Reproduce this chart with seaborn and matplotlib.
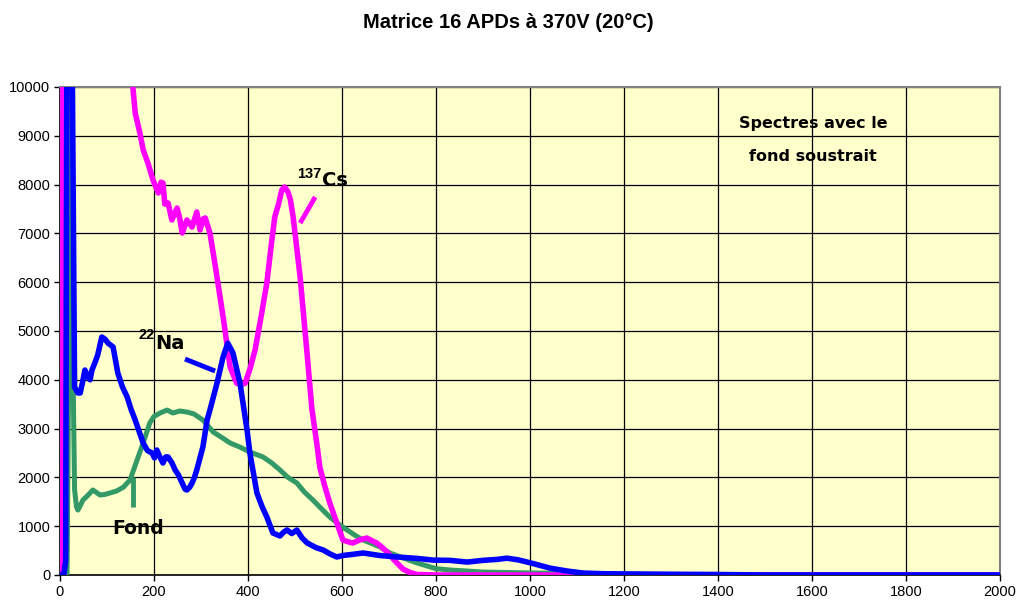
import numpy as np
import pandas as pd
import matplotlib
matplotlib.use("Agg")
import matplotlib.pyplot as plt
import seaborn as sns

# ---------------- data ----------------
title = "Matrice 16 APDs à 370V (20°C)"

cs_x = [0, 3, 6, 12, 25, 150, 155, 160, 170, 177, 187, 198, 209, 215, 219, 223, 230,
        238, 249, 255, 260, 270, 281, 291, 298, 305, 309, 319, 326, 334, 347, 362,
        376, 385, 394, 405, 415, 428, 440, 450, 457, 465, 472, 478, 485, 490, 496,
        511, 525, 536, 547, 553, 564, 574, 589, 602, 613, 623, 638, 653, 664, 674,
        686, 696, 707, 717, 730, 745, 760, 800, 1000, 1200, 1400, 2000]
cs_y = [0, 0, 15000, 20000, 20000, 10300, 10000, 9467, 9057, 8709, 8443, 8094, 7828,
        8050, 8033, 7600, 7623, 7275, 7520, 7300, 7008, 7275, 7131, 7439, 7070, 7300,
        7316, 7008, 6598, 6107, 5290, 4260, 3930, 3900, 3930, 4250, 4610, 5300, 5980,
        6800, 7340, 7600, 7890, 7950, 7850, 7700, 7340, 6100, 4610, 3400, 2650, 2200,
        1800, 1475, 1066, 717, 680, 656, 720, 758, 700, 656, 560, 471, 350, 246, 120,
        50, 10, 0, 0, 0, 0, 0]

na_x = [0, 8, 12, 15, 21, 25, 31, 38, 43, 48, 53, 60, 64, 68, 74, 80, 89, 96, 102,
        113, 123, 133, 143, 151, 160, 168, 177, 186, 196, 201, 206, 212, 219, 225,
        230, 238, 245, 252, 260, 266, 270, 276, 281, 286, 291, 304, 313, 319, 334,
        347, 357, 368, 383, 398, 404, 419, 430, 440, 453, 468, 476, 483, 493, 504,
        515, 526, 545, 560, 575, 589, 602, 620, 645, 680, 717, 760, 794, 830, 866,
        900, 930, 951, 975, 994, 1020, 1043, 1080, 1113, 1160, 1219, 1300, 1400,
        1500, 2000]
na_y = [0, 0, 300, 12000, 16000, 12000, 3850, 3730, 3730, 3950, 4200, 4050, 4000,
        4200, 4344, 4500, 4877, 4830, 4754, 4672, 4139, 3850, 3647, 3400, 3176, 2950,
        2705, 2550, 2500, 2400, 2561, 2430, 2295, 2420, 2418, 2300, 2152, 2050, 1885,
        1760, 1742, 1800, 1885, 2000, 2152, 2623, 3176, 3380, 3930, 4470, 4750, 4550,
        3930, 2970, 2500, 1680, 1400, 1190, 861, 800, 880, 922, 850, 922, 760, 656,
        560, 512, 430, 369, 400, 420, 451, 400, 369, 340, 305, 300, 265, 300, 320,
        345, 310, 265, 200, 140, 80, 40, 25, 20, 15, 10, 0, 0]

fond_x = [0, 15, 20, 24, 28, 31, 35, 38, 42, 49, 56, 70, 85, 95, 106, 120, 135, 149,
          164, 177, 191, 200, 213, 228, 240, 255, 270, 285, 304, 326, 347, 362, 383,
          404, 432, 450, 468, 485, 504, 520, 538, 556, 574, 596, 611, 630, 645, 665,
          681, 702, 730, 760, 800, 830, 900, 1006, 1100, 1200, 1300, 2000]
fond_y = [0, 0, 6000, 14000, 4000, 1750, 1400, 1330, 1400, 1540, 1600, 1742, 1640,
          1650, 1680, 1720, 1800, 1947, 2357, 2705, 3115, 3250, 3320, 3380, 3320, 3360,
          3340, 3300, 3176, 2930, 2800, 2705, 2620, 2520, 2418, 2300, 2152, 2000, 1885,
          1700, 1537, 1360, 1188, 1020, 922, 800, 717, 640, 574, 451, 350, 246, 130,
          102, 61, 41, 30, 20, 10, 0]

x_ticks = [0, 200, 400, 600, 800, 1000, 1200, 1400, 1600, 1800, 2000]
y_ticks = [0, 1000, 2000, 3000, 4000, 5000, 6000, 7000, 8000, 9000, 10000]

note_lines = ["Spectres avec le", "fond soustrait"]

# ---------------- styling ----------------
sns.set_theme(style="white")
plt.rcParams['font.family'] = ['Liberation Sans', 'DejaVu Sans']
plt.rcParams['text.color'] = 'black'

c_cs = "#FF00FF"
c_na = "#0000FF"
c_fond = "#339966"

fig = plt.figure(figsize=(10.16, 6.03), dpi=100)
ax = fig.add_axes([60 / 1016, 28 / 603, 940 / 1016, 488 / 603])
ax.set_facecolor("#FFFFCC")

df_f = pd.DataFrame({"x": fond_x, "y": fond_y})
df_c = pd.DataFrame({"x": cs_x, "y": cs_y})
df_n = pd.DataFrame({"x": na_x, "y": na_y})

sns.lineplot(data=df_f, x="x", y="y", ax=ax, color=c_fond, lw=3.6, sort=False,
             estimator=None, zorder=3)
sns.lineplot(data=df_c, x="x", y="y", ax=ax, color=c_cs, lw=4.0, sort=False,
             estimator=None, zorder=4)
sns.lineplot(data=df_n, x="x", y="y", ax=ax, color=c_na, lw=4.0, sort=False,
             estimator=None, zorder=5)

ax.set_xlim(0, 2000)
ax.set_ylim(0, 10000)
ax.set_xticks(x_ticks)
ax.set_yticks(y_ticks)
ax.set_xticklabels([str(v) for v in x_ticks])
ax.set_yticklabels([str(v) for v in y_ticks])
ax.set_xlabel("")
ax.set_ylabel("")
ax.grid(True, color="black", lw=0.9, zorder=1)
ax.set_axisbelow(True)
ax.tick_params(axis="both", which="major", direction="out", length=4, width=1,
               color="black", labelsize=10.5, labelcolor="black", pad=3,
               bottom=True, left=True)
for s in ["left", "bottom"]:
    ax.spines[s].set_color("black")
    ax.spines[s].set_linewidth(1.2)
for s in ["top", "right"]:
    ax.spines[s].set_color("#808080")
    ax.spines[s].set_linewidth(1.5)

fig.text(0.5, 1 - 22 / 603, title, ha="center", va="center", fontsize=14.5,
         fontweight="bold", color="black")

# annotations
afont = ['DejaVu Sans']
ax.text(1602, 9262, note_lines[0], ha="center", va="center", fontsize=11.5,
        fontweight="bold", family=afont, color="black", zorder=6)
ax.text(1602, 8566, note_lines[1], ha="center", va="center", fontsize=11.5,
        fontweight="bold", family=afont, color="black", zorder=6)

ax.text(557, 8217, "137", ha="right", va="center", fontsize=10.5, fontweight="bold",
        color="black", zorder=6)
ax.text(557, 8094, "Cs", ha="left", va="center", fontsize=14, fontweight="bold",
        family=afont, color="black", zorder=6)
ax.plot([543, 511], [7746, 7213], color=c_cs, lw=3.5, solid_capstyle="butt", zorder=6)

ax.text(202, 4918, "22", ha="right", va="center", fontsize=10.5, fontweight="bold",
        color="black", zorder=6)
ax.text(202, 4754, "Na", ha="left", va="center", fontsize=14, fontweight="bold",
        family=afont, color="black", zorder=6)
ax.plot([266, 330], [4426, 4180], color=c_na, lw=3.5, solid_capstyle="butt", zorder=6)

ax.text(166, 963, "Fond", ha="center", va="center", fontsize=13.5, fontweight="bold",
        family=afont, color="black", zorder=6)
ax.plot([155, 155], [2008, 1393], color=c_fond, lw=3.5, solid_capstyle="butt", zorder=6)

fig.savefig("out.png", dpi=100, facecolor="white")
